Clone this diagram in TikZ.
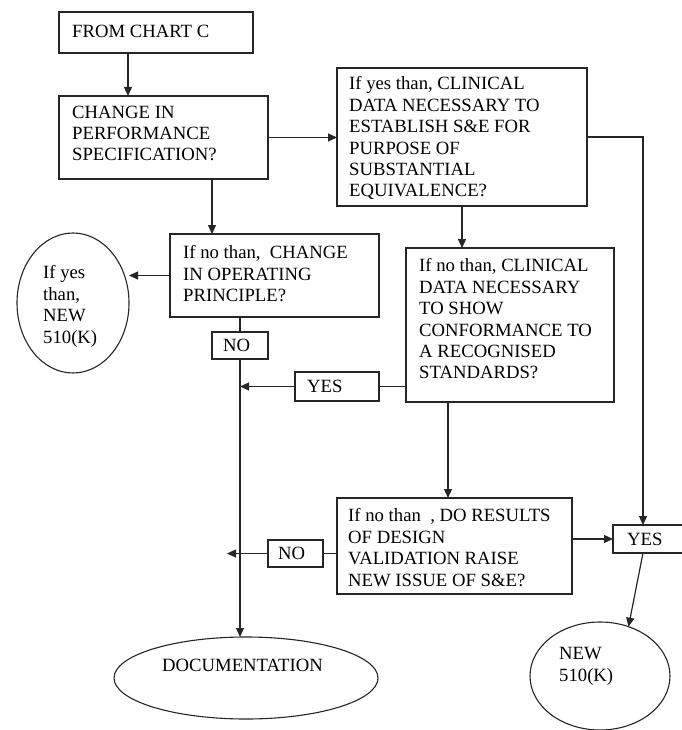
\documentclass[tikz,border=0pt]{standalone}
\usepackage{fontspec}
\setmainfont{Liberation Serif}
\usetikzlibrary{arrows.meta,shapes.geometric}
\begin{document}
\begin{tikzpicture}[x=1pt,y=-1pt,
  frame/.style={draw=black!85, line width=1.2pt, rectangle, inner sep=0pt, outer sep=0pt},
  oval/.style={draw=black!85, line width=1.1pt, ellipse, inner sep=0pt, outer sep=0pt},
  txt/.style={anchor=north west, inner sep=0pt, align=left, font=\fontsize{18.7}{21.4}\selectfont},
  lbl/.style={anchor=west, inner sep=0pt, font=\fontsize{18.7}{21.4}\selectfont},
  flow/.style={draw=black!85, line width=1.2pt},
  arr/.style={flow, -{Triangle[length=9pt,width=8pt]}}]
\fill[white] (0,0) rectangle (681,730);
\useasboundingbox (0,0) rectangle (681,730);

% boxes
\node[frame, minimum width=194pt, minimum height=41pt]  (chart) at (156,32.5) {};
\node[frame, minimum width=209pt, minimum height=83pt]  (perf)  at (163.5,137.5) {};
\node[frame, minimum width=250pt, minimum height=138pt] (clin)  at (462,137) {};
\node[frame, minimum width=209pt, minimum height=83pt]  (oper)  at (274.5,275.5) {};
\node[frame, minimum width=208pt, minimum height=154pt] (std)   at (510,325) {};
\node[frame, minimum width=235pt, minimum height=96pt]  (valid) at (454.5,546) {};
\node[frame, minimum width=56pt, minimum height=27pt]   (no1)   at (240,345.5) {};
\node[frame, minimum width=84pt, minimum height=29pt]   (yes1)  at (337,386.5) {};
\node[frame, minimum width=55pt, minimum height=27pt]   (no2)   at (295.5,553.5) {};
\node[frame, minimum width=82pt, minimum height=28pt]   (yes2)  at (654,539) {};

% ovals
\node[oval, minimum width=112pt, minimum height=140pt] (new1) at (73,303) {};
\node[oval, minimum width=264pt, minimum height=82pt]  (doc)  at (246,678) {};
\node[oval, minimum width=140pt, minimum height=108pt] (new2) at (600,676) {};

% texts
\node[txt] (tchart) at (72,24.5) {FROM CHART C};
\node[txt] (tperf)  at (72,105.5) {CHANGE IN\\PERFORMANCE\\SPECIFICATION?};
\node[txt] (tclin)  at (349,76.5) {If yes than, CLINICAL\\DATA NECESSARY TO\\ESTABLISH S\&E FOR\\PURPOSE OF\\SUBSTANTIAL\\EQUIVALENCE?};
\node[txt] (toper)  at (183,245.5) {If no than,~ CHANGE\\IN OPERATING\\PRINCIPLE?};
\node[txt] (tstd)   at (419,258.5) {If no than, CLINICAL\\DATA NECESSARY\\TO SHOW\\CONFORMANCE TO\\A RECOGNISED\\STANDARDS?};
\node[txt] (tvalid) at (348,508.5) {If no than~ , DO RESULTS\\OF DESIGN\\VALIDATION RAISE\\NEW ISSUE OF S\&E?};
\node[txt] (tnew1)  at (43,265.5) {If yes\\than,\\NEW\\510(K)};
\node[txt] (tnew2)  at (559,647.5) {NEW\\510(K)};
\node[lbl] (tno1)  at (223,345.5) {NO};
\node[lbl] (tyes1) at (307,386.5) {YES};
\node[lbl] (tno2)  at (278,553.5) {NO};
\node[lbl] (tyes2) at (627,539) {YES};
\node[lbl] (tdoc)  at (162,665) {DOCUMENTATION};

% x positions of vertical runs
\coordinate (xa) at (128,0);
\coordinate (xb) at (212,0);
\coordinate (xd) at (643,0);
\coordinate (xe) at (448,0);
\coordinate (noend) at (227,0);

% connectors
\draw[arr] (chart.south -| xa) -- (perf.north -| xa);
\draw[arr] (perf.east) -- (perf.east -| clin.west);
\draw[arr] (perf.south -| xb) -- (oper.north -| xb);
\draw[arr] (oper.west) -- (oper.west -| new1.east);
\draw[arr] (clin.east) -- (clin.east -| xd) -- (yes2.north -| xd);
\draw[arr] (clin.south) -- (std.north -| clin.south);
\draw[flow] (no1.north |- oper.south) -- (no1.north);
\draw[arr] (no1.south) -- (no1.south |- doc.north);
\draw[flow] (yes1.east -| std.west) -- (yes1.east);
\draw[arr] (yes1.west) -- (yes1.west -| no1.south);
\draw[arr] (std.south -| xe) -- (valid.north -| xe);
\draw[flow] (no2.east -| valid.west) -- (no2.east);
\draw[arr] (no2.west) -- (no2.west -| noend);
\draw[arr] (yes2.west -| valid.east) -- (yes2.west);
\draw[arr] (yes2.south -| xd) -- (new2.60);
\end{tikzpicture}
\end{document}
